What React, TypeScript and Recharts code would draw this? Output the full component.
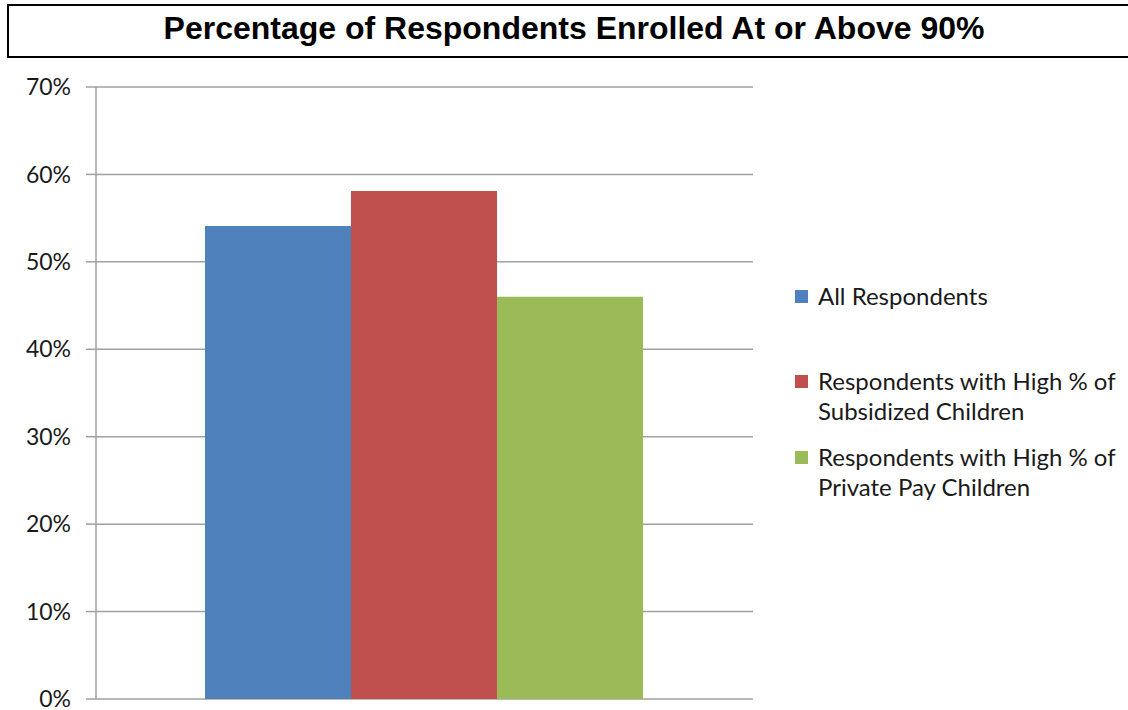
import React from 'react';
import { BarChart, Bar, XAxis, YAxis, CartesianGrid } from 'recharts';

const categories = ['Enrolled at or above 90%'];
const allRespondents = [0.541];
const highSubsidized = [0.581];
const highPrivatePay = [0.46];
const yTicks = [0, 0.1, 0.2, 0.3, 0.4, 0.5, 0.6, 0.7];

const seriesKeys = ['all', 'subsidized', 'privatePay'];
const seriesNames = [
  'All Respondents',
  'Respondents with High % of Subsidized Children',
  'Respondents with High % of Private Pay Children',
];
const seriesColors = ['#4f81bd', '#c0504d', '#9bbb59'];
const legendLines = [
  ['All Respondents'],
  ['Respondents with High % of', 'Subsidized Children'],
  ['Respondents with High % of', 'Private Pay Children'],
];

const data = categories.map((c, i) => ({
  name: c,
  all: allRespondents[i],
  subsidized: highSubsidized[i],
  privatePay: highPrivatePay[i],
}));

const FONT = 'Lato, "Open Sans", sans-serif';

// legend sits to the right of the plot, items spaced like the original
const legendTops = [281, 366, 442];

const ChartLegend: React.FC = () => (
  <div style={{ fontFamily: FONT, fontSize: 24, color: '#1a1a1a' }}>
    {seriesNames.map((n, i) => (
      <div
        key={n}
        style={{ position: 'absolute', left: 795, top: legendTops[i], display: 'flex', alignItems: 'flex-start', whiteSpace: 'nowrap' }}
      >
        <div style={{ width: 13, height: 13, background: seriesColors[i], marginTop: 9, marginRight: 10, flexShrink: 0 }} />
        <div style={{ lineHeight: '30px' }}>
          {legendLines[i].map((l, j) => (
            <div key={j}>{l}</div>
          ))}
        </div>
      </div>
    ))}
  </div>
);

const App: React.FC = () => {
  return (
    <div style={{ position: 'absolute', left: 0, top: 0, width: 1128, height: 710, background: '#fff', overflow: 'hidden' }}>
      <div
        style={{
          position: 'absolute', left: 7, top: 4, width: 1140, height: 50,
          border: '2px solid #000', boxSizing: 'content-box',
        }}
      />
      <div
        style={{
          position: 'absolute', left: 0, top: 6, width: 1148, height: 50, lineHeight: '44px',
          textAlign: 'center', fontFamily: '"Liberation Sans", Arial, sans-serif', fontWeight: 'bold', fontSize: 32,
        }}
      >
        Percentage of Respondents Enrolled At or Above 90%
      </div>
      <div style={{ position: 'absolute', left: 0, top: 0 }}>
        <BarChart
          width={1128}
          height={710}
          data={data}
          margin={{ top: 87, right: 375, bottom: 11, left: 10 }}
          barCategoryGap={109}
          barGap={0}
        >
          <CartesianGrid horizontal vertical={false} stroke="#a0a0a0" strokeWidth={1.5} />
          <XAxis dataKey="name" tick={false} tickLine={false} axisLine={{ stroke: '#a0a0a0', strokeWidth: 1.5 }} height={0} />
          <YAxis
            width={86}
            domain={[0, 0.7]}
            ticks={yTicks}
            interval={0}
            tickFormatter={(v: number) => `${Math.round(v * 100)}%`}
            tickSize={10}
            tickMargin={15}
            tickLine={{ stroke: '#a0a0a0', strokeWidth: 1.5 }}
            axisLine={{ stroke: '#a0a0a0', strokeWidth: 1.5 }}
            tick={{ fontFamily: FONT, fontSize: 23, fill: '#1a1a1a' }}
          />
          {seriesKeys.map((k, i) => (
            <Bar key={k} dataKey={k} name={seriesNames[i]} fill={seriesColors[i]} isAnimationActive={false} />
          ))}
        </BarChart>
      </div>
      <ChartLegend />
    </div>
  );
};

export default App;
